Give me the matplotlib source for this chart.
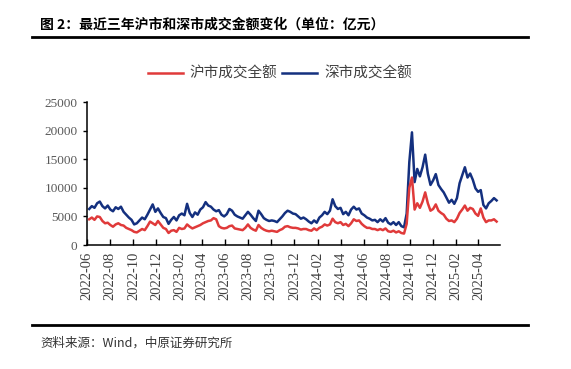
import matplotlib
matplotlib.use('Agg')
import matplotlib.pyplot as plt
from matplotlib import font_manager
import matplotlib.dates as mdates
import pandas as pd

# 数字用 Times 类衬线字体，找不到就退回 DejaVu Serif
serif_font = 'DejaVu Serif'
for name in ['Liberation Serif', 'Times New Roman']:
    try:
        font_manager.findfont(name, fallback_to_default=False)
        serif_font = name
        break
    except ValueError:
        pass
plt.rcParams['font.family'] = [serif_font, 'Noto Sans CJK SC', 'DejaVu Sans']

# 每周成交额（亿元），从 2022-06-06 起按周
sh_values = [
    4500, 4800, 4400, 5000,                # 2022-06
    4900, 4200, 3800, 3900,                # 2022-07
    3500, 3200, 3600, 3800, 3500,          # 2022-08
    3400, 3000, 2800, 2600,                # 2022-09
    2300, 2200, 2500, 2800, 2600,          # 2022-10
    3300, 4100, 3800, 3500,                # 2022-11
    4200, 3600, 3000, 2800,                # 2022-12
    2100, 2500, 2600, 2300, 3000,          # 2023-01
    2800, 2900, 3600, 3200,                # 2023-02
    2900, 3100, 3300, 3500,                # 2023-03
    3800, 4000, 4200, 4300,                # 2023-04
    4700, 4500, 3300, 3000, 2900,          # 2023-05
    3000, 3300, 3400, 2900,                # 2023-06
    2800, 2700, 2600, 3000, 3600,          # 2023-07
    3000, 2700, 2500, 3500,                # 2023-08
    3000, 2700, 2500, 2400,                # 2023-09
    2500, 2400, 2300, 2600, 2800,          # 2023-10
    3200, 3300, 3100, 3000,                # 2023-11
    3000, 2900, 2700, 2800,                # 2023-12
    2800, 2600, 2500, 2900, 2600,          # 2024-01
    3000, 3200, 3600, 3400,                # 2024-02
    3600, 4600, 4000, 3800,                # 2024-03
    4000, 3500, 3700, 3300, 3800,          # 2024-04
    4500, 4200, 4300, 3700,                # 2024-05
    3300, 3000, 3000, 2800,                # 2024-06
    2800, 2600, 2800, 2600, 2900,          # 2024-07
    2400, 2300, 2500, 2200,                # 2024-08
    2400, 2100, 2000, 3700, 10000,         # 2024-09
    11800, 6200, 7300, 6500,               # 2024-10
    7600, 9200, 7300, 6000,                # 2024-11
    6300, 7100, 6000, 5600, 5300,          # 2024-12
    4600, 4200, 4300, 4000,                # 2025-01
    4600, 5600, 6200, 6900,                # 2025-02
    6000, 6500, 6300, 5500, 5100,          # 2025-03
    6400, 4800, 4000, 4300,                # 2025-04
    4300, 4500, 4100,                      # 2025-05
]
sz_values = [
    6300, 6800, 6500, 7300,                # 2022-06
    7600, 6800, 6400, 6900,                # 2022-07
    6200, 5900, 6600, 6300, 6700,          # 2022-08
    5800, 5300, 4800, 4400,                # 2022-09
    3600, 3800, 4300, 4800, 4500,          # 2022-10
    5300, 6200, 7100, 5800,                # 2022-11
    6400, 5600, 4900, 4700,                # 2022-12
    3700, 4400, 4900, 4300, 5200,          # 2023-01
    5500, 5200, 7200, 5600,                # 2023-02
    4900, 5700, 5300, 6200,                # 2023-03
    6600, 7500, 6900, 6700,                # 2023-04
    6200, 5900, 6100, 5300, 5000,          # 2023-05
    5400, 6300, 6000, 5300,                # 2023-06
    5000, 4800, 4600, 5200, 5800,          # 2023-07
    5300, 4700, 4200, 6000,                # 2023-08
    5400, 4700, 4400, 4200,                # 2023-09
    4300, 4200, 4000, 4500, 5000,          # 2023-10
    5600, 6000, 5800, 5500,                # 2023-11
    5400, 5000, 4600, 4800,                # 2023-12
    4500, 4100, 3800, 4300, 3900,          # 2024-01
    4800, 5200, 5800, 5400,                # 2024-02
    6000, 8000, 6800, 6300,                # 2024-03
    6500, 5400, 5800, 5200, 6200,          # 2024-04
    6700, 6200, 6400, 5500,                # 2024-05
    5200, 4800, 4600, 4300,                # 2024-06
    4400, 4000, 4500, 4100, 4700,          # 2024-07
    3900, 3600, 4000, 3500,                # 2024-08
    4000, 3300, 3100, 5500, 14500,         # 2024-09
    19700, 11000, 13300, 12000,            # 2024-10
    13600, 15800, 12500, 10500,            # 2024-11
    11300, 12400, 10500, 9800, 9200,       # 2024-12
    8300, 7400, 7900, 7200,                # 2025-01
    8200, 10800, 12200, 13600,             # 2025-02
    11800, 12500, 11400, 9900, 9300,       # 2025-03
    9600, 7000, 6400, 7300,                # 2025-04
    7700, 8200, 7800,                      # 2025-05
]
dates = pd.date_range('2022-06-06', periods=len(sz_values), freq='W-MON')

labels = ['沪市成交全额', '深市成交全额']
colors = ['#E03A3A', '#14307F']

fig = plt.figure(figsize=(5.71, 3.69), dpi=100)
ax = fig.add_axes([0.1529, 0.336, 0.7228, 0.3875])

ax.plot(dates, sz_values, color=colors[1], lw=1.8, label=labels[1], zorder=2)
ax.plot(dates, sh_values, color=colors[0], lw=1.8, label=labels[0], zorder=3)

ax.set_xlim(pd.Timestamp('2022-06-01'), pd.Timestamp('2025-05-28'))
ax.set_ylim(0, 25000)
ax.set_yticks(range(0, 25001, 5000))

ax.xaxis.set_major_locator(mdates.MonthLocator(bymonth=[2, 4, 6, 8, 10, 12]))
ax.xaxis.set_major_formatter(mdates.DateFormatter('%Y-%m'))
plt.setp(ax.get_xticklabels(), rotation=90, fontsize=10.5, color='#404040',
         family=serif_font)
plt.setp(ax.get_yticklabels(), fontsize=9.5, color='#595959', family=serif_font)
ax.tick_params(axis='x', direction='in', length=4, width=1, pad=5)
ax.tick_params(axis='y', direction='out', length=3, width=1, pad=4)

for side in ['top', 'right']:
    ax.spines[side].set_visible(False)
for side in ['left', 'bottom']:
    ax.spines[side].set_linewidth(1.1)
    ax.spines[side].set_color('black')

# 图例
handles, hl = ax.get_legend_handles_labels()
order = [1, 0]
fig.legend([handles[i] for i in order], [hl[i] for i in order],
           loc='center', bbox_to_anchor=(0.49, 0.80), ncol=2, frameon=False,
           prop={'family': 'Noto Sans CJK SC', 'size': 10.5},
           handlelength=2.4, handletextpad=0.5, columnspacing=0.3,
           labelcolor='#404040')

# 标题与来源
fig.text(0.07, 0.932, '图 2：最近三年沪市和深市成交金额变化（单位：亿元）',
         fontsize=10, fontweight='bold', family='Noto Sans CJK SC', va='center')
fig.add_artist(plt.Line2D([32 / 571, 528 / 571], [1 - 36.7 / 369, 1 - 36.7 / 369],
                          color='black', lw=2))
fig.add_artist(plt.Line2D([32 / 571, 528 / 571], [1 - 325 / 369, 1 - 325 / 369],
                          color='black', lw=2))
fig.text(0.07, 1 - 343 / 369, '资料来源：Wind，中原证券研究所', fontsize=9,
         family=['Noto Sans CJK SC', 'DejaVu Sans'], va='center', color='#333333')

fig.savefig('out.png', dpi=100)
